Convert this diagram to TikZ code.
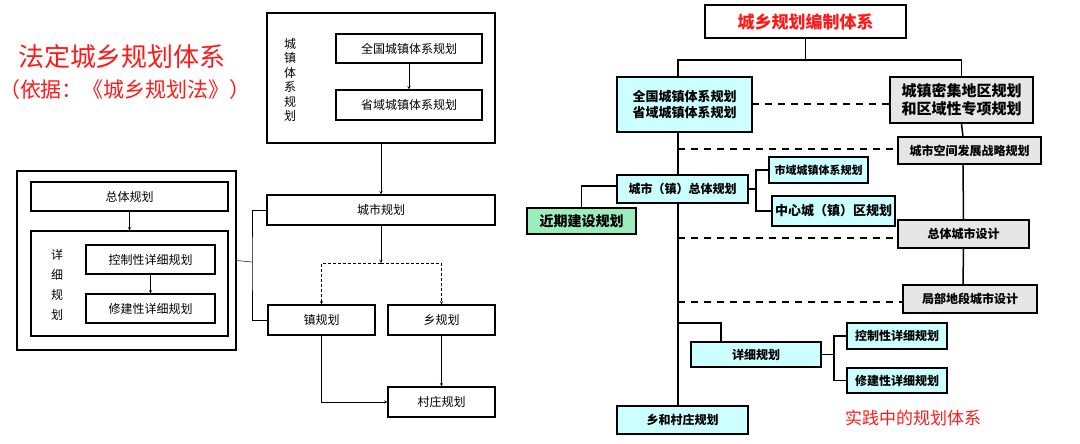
\documentclass[tikz,border=0pt]{standalone}
\usepackage{fontspec}
\setmainfont{Noto Sans CJK SC}
\usetikzlibrary{positioning}
\definecolor{cyanbox}{HTML}{CCFFFF}
\definecolor{greenbox}{HTML}{99EEBB}
\definecolor{graybox}{HTML}{E6E6E6}
\definecolor{redtxt}{HTML}{FF1A1A}
\begin{document}
\begin{tikzpicture}[x=1pt,y=-1pt,
    lbox/.style={draw,line width=1.2pt,fill=white,font=\fontsize{12}{13}\selectfont,inner sep=0pt},
    rbox/.style={draw,line width=1.4pt,fill=cyanbox,font=\fontsize{12}{14}\selectfont\bfseries,inner sep=0pt,align=center},
    gbox/.style={rbox,fill=graybox},
    ar/.style={->,>=stealth,line width=0.5pt},
    ln/.style={line width=1.5pt},
    dl/.style={line width=1.5pt,dash pattern=on 7pt off 6pt}]
    \useasboundingbox (0,0) rectangle (1080,444);
    % left: legal system
    \node[text=redtxt,font=\fontsize{26}{28}\selectfont] (ltitle) at (122,57) {法定城乡规划体系};
    \node[text=redtxt,font=\fontsize{21}{22}\selectfont] (lsub) at (125,90) {（依据：《城乡规划法》）};
    \node[lbox,minimum width=228,minimum height=130] (sys) at (381,78) {};
    \node[font=\fontsize{12}{14.5}\selectfont,align=center] (syslab) at (290,80) {城\\镇\\体\\系\\规\\划};
    \node[lbox,minimum width=146,minimum height=29] (natl) at (409,48.5) {全国城镇体系规划};
    \node[lbox,minimum width=146,minimum height=30] (prov) at (409,105) {省域城镇体系规划};
    \node[lbox,minimum width=228,minimum height=30] (city) at (381,210) {城市规划};
    \node[lbox,minimum width=107,minimum height=30] (town) at (321.5,320) {镇规划};
    \node[lbox,minimum width=107,minimum height=30] (xiang) at (441.5,320) {乡规划};
    \node[lbox,minimum width=107,minimum height=30] (vill) at (441.5,402) {村庄规划};
    \node[lbox,minimum width=219,minimum height=179] (big) at (126.5,260.5) {};
    \node[lbox,minimum width=197,minimum height=29] (zt) at (129.5,196.5) {总体规划};
    \node[lbox,minimum width=197,minimum height=105] (xx) at (129.5,283.5) {};
    \node[font=\fontsize{12}{20}\selectfont,align=center] (xxlab) at (57,285) {详\\细\\规\\划};
    \node[lbox,minimum width=129,minimum height=29] (kz) at (150.5,259.5) {控制性详细规划};
    \node[lbox,minimum width=129,minimum height=29] (xj) at (150.5,308.5) {修建性详细规划};
    \draw[ar] (natl) -- (prov);
    \draw[ar] (zt) -- (xx);
    \draw[ar] (kz) -- (xj);
    \draw[ar] (sys) -- (city);
    \draw[ar] (city.south) -- (381,263);
    \draw[ar,densely dashed] (381,263) -| (town.north);
    \draw[ar,densely dashed] (381,263) -| (xiang.north);
    \draw[ar] (xiang) -- (vill);
    \draw[ar] (town.south) |- (vill.west);
    \draw[line width=0.5pt] (city.west) -| (252,262) |- (town.west);
    \draw[line width=0.5pt] (big.east) -- (252,262);
    % right: practice
    \node[draw,line width=1.4pt,minimum width=201,minimum height=33,text=redtxt,font=\fontsize{17}{19}\selectfont\bfseries] (rtitle) at (805.5,21.5) {城乡规划编制体系};
    \node[rbox,minimum width=135,minimum height=55,font=\fontsize{13}{16}\selectfont\bfseries] (rsys) at (684.5,104.5) {全国城镇体系规划\\省域城镇体系规划};
    \node[gbox,minimum width=143,minimum height=46,font=\fontsize{15}{18}\selectfont\bfseries] (dense) at (961.5,100) {城镇密集地区规划\\和区域性专项规划};
    \node[gbox,minimum width=143,minimum height=27] (strat) at (969.5,150.5) {城市空间发展战略规划};
    \node[gbox,minimum width=131,minimum height=28] (ovd) at (963.5,234) {总体城市设计};
    \node[gbox,minimum width=134,minimum height=28] (locd) at (970,299) {局部地段城市设计};
    \node[rbox,minimum width=131,minimum height=28] (master) at (682.5,189) {城市（镇）总体规划};
    \node[rbox,fill=greenbox,minimum width=109,minimum height=26,font=\fontsize{14}{16}\selectfont\bfseries] (near) at (581.5,221) {近期建设规划};
    \node[rbox,minimum width=99,minimum height=26,font=\fontsize{11}{13}\selectfont\bfseries] (mun) at (818.5,170) {市域城镇体系规划};
    \node[rbox,minimum width=123,minimum height=30,font=\fontsize{13}{15}\selectfont\bfseries] (core) at (833.5,211) {中心城（镇）区规划};
    \node[rbox,minimum width=130,minimum height=25] (det) at (756,354.5) {详细规划};
    \node[rbox,minimum width=100,minimum height=26] (rkz) at (897,336) {控制性详细规划};
    \node[rbox,minimum width=100,minimum height=25] (rxj) at (897,380.5) {修建性详细规划};
    \node[rbox,minimum width=131,minimum height=28] (rural) at (682.5,420) {乡和村庄规划};
    \node[text=redtxt,font=\fontsize{17}{19}\selectfont] (rcap) at (913,418) {实践中的规划体系};
    \draw[ln] (rtitle.south) -- (805.5,60) -| (678,77);
    \draw[ln] (805.5,60) -| (dense.north);
    \draw[ln] (678,132) -- (678,175);
    \draw[ln] (678,203) -- (678,406);
    \draw[ln] (dense.south) -- (963,137);
    \draw[ln] (963,164) -- (ovd.north);
    \draw[ln] (ovd.south) -- (963,285);
    \draw[dl] (752,104) -- (dense.west |- 0,104);
    \draw[dl] (678,149) -- (strat.west |- 0,149);
    \draw[dl] (678,238) -- (ovd.west |- 0,238);
    \draw[dl] (678,302) -- (locd.west |- 0,302);
    \draw[ln] (617,186) -| (near.north);
    \draw[ln] (master.east) -- (756,189);
    \draw[ln] (756,189) |- (mun.west);
    \draw[ln] (756,189) |- (core.west);
    \draw[ln] (678,323) -| (721,342);
    \draw[ln] (det.east) -- (834,354.5);
    \draw[ln] (834,354.5) |- (rkz.west);
    \draw[ln] (834,354.5) |- (rxj.west);
\end{tikzpicture}
\end{document}
